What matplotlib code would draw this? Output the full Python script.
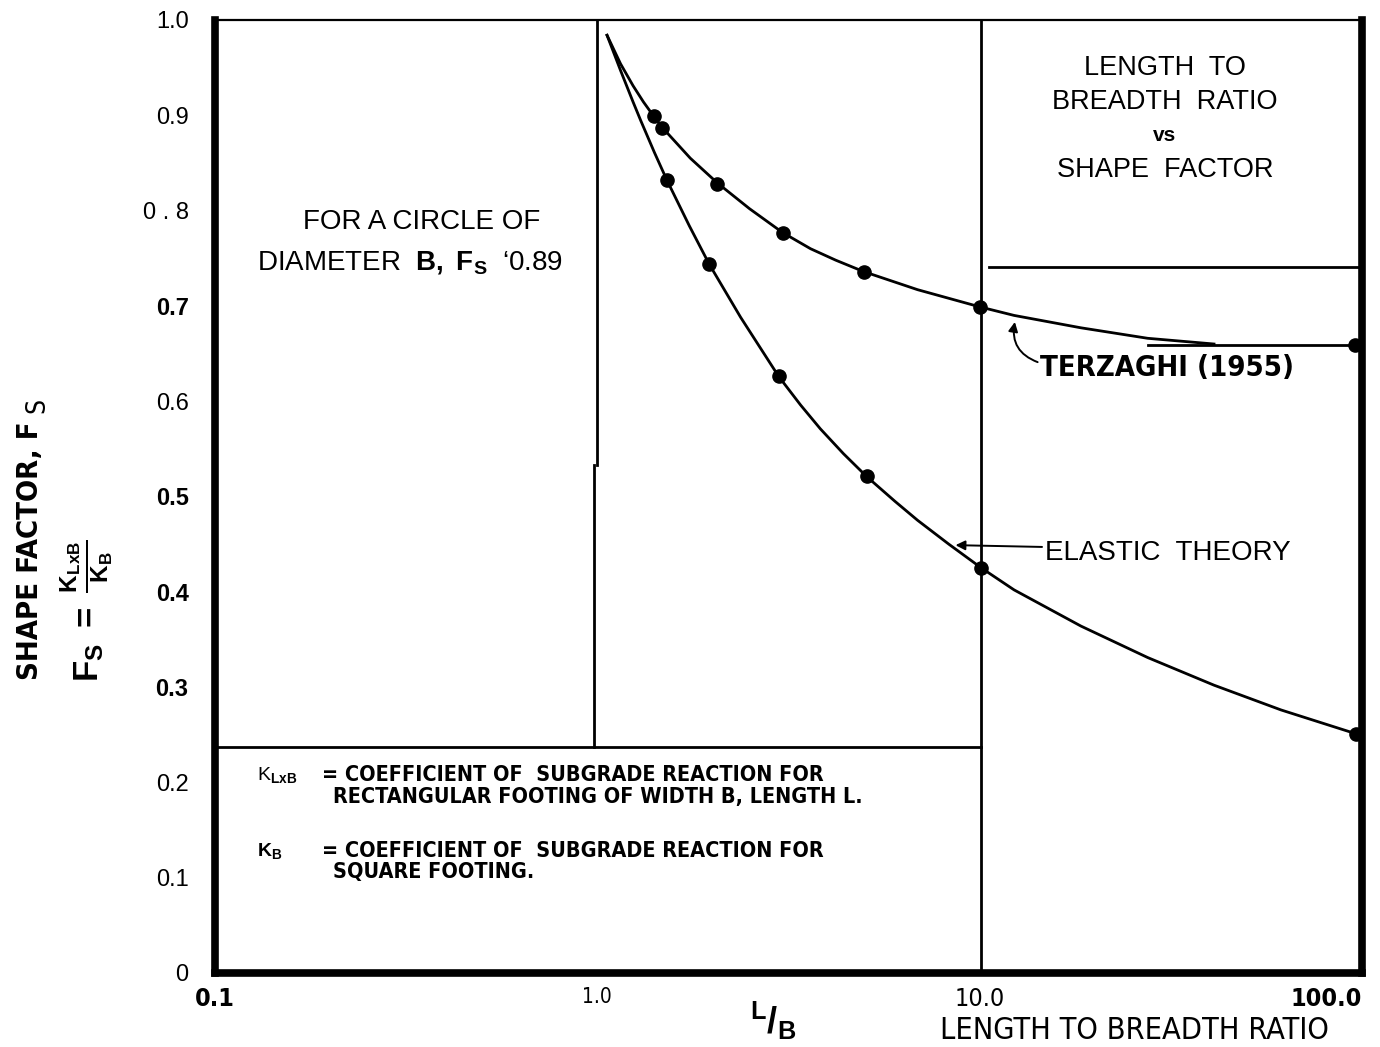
import matplotlib
matplotlib.use("Agg")
import matplotlib.pyplot as plt
from matplotlib import font_manager

# Points (L/B, shape factor)
terzaghi_x = [1.41, 1.48, 2.06, 3.05, 4.97, 10.0, 96.0]
terzaghi_y = [0.899, 0.887, 0.828, 0.777, 0.736, 0.699, 0.659]
elastic_x = [1.52, 1.96, 2.98, 5.06, 10.1, 96.4]
elastic_y = [0.832, 0.744, 0.626, 0.521, 0.425, 0.251]

# Hand-drawn curves traced through the points
terzaghi_curve_x = [1.06, 1.15, 1.24, 1.32, 1.41, 1.48, 1.75, 2.06, 2.5, 3.05, 3.61, 4.2, 4.97,
                    6.88, 10.0, 12.3, 18.4, 27.5, 41.0]
terzaghi_curve_y = [0.984, 0.954, 0.931, 0.914, 0.898, 0.887, 0.855, 0.829, 0.802, 0.777, 0.760, 0.748, 0.736,
                    0.717, 0.699, 0.690, 0.677, 0.666, 0.660]
terzaghi_flat_x = [27.5, 96.0]
terzaghi_flat_y = [0.659, 0.659]
elastic_curve_x = [1.06, 1.15, 1.24, 1.30, 1.41, 1.52, 1.74, 1.96, 2.37, 2.98, 3.4, 3.83, 4.4, 5.06,
                   6.0, 6.88, 8.3, 10.1, 12.3, 18.4, 27.5, 41.0, 61.4, 96.4]
elastic_curve_y = [0.984, 0.947, 0.914, 0.894, 0.861, 0.832, 0.784, 0.744, 0.688, 0.626, 0.596, 0.571, 0.545, 0.521,
                   0.495, 0.475, 0.450, 0.425, 0.402, 0.364, 0.331, 0.302, 0.276, 0.251]

y_ticks = [0, 0.1, 0.2, 0.3, 0.4, 0.5, 0.6, 0.7, 0.8, 0.9, 1.0]
y_labels = ["0", "0.1", "0.2", "0.3", "0.4", "0.5", "0.6", "0.7", "0 . 8", "0.9", "1.0"]
y_bold = ["0.3", "0.4", "0.5", "0.7"]
x_ticks = [0.1, 1.0, 10.0, 100.0]
x_labels = ["0.1", "1.0", "10.0", "100.0"]

SANS = ["Liberation Sans", "DejaVu Sans"]
plt.rcParams["font.family"] = SANS
plt.rcParams["mathtext.fontset"] = "custom"
plt.rcParams["mathtext.rm"] = "Liberation Sans"
plt.rcParams["mathtext.bf"] = "Liberation Sans:bold"
plt.rcParams["mathtext.it"] = "Liberation Sans"


def narrow(size, bold=False):
    """Condensed font if one is installed, else plain sans."""
    weight = "bold" if bold else "normal"
    for fam in ["Liberation Sans Narrow", "DejaVu Sans"]:
        fp = font_manager.FontProperties(family=fam, stretch="condensed", weight=weight, size=size)
        try:
            path = font_manager.findfont(fp, fallback_to_default=False)
        except ValueError:
            continue
        if "Narrow" in path or "Condensed" in path:
            return font_manager.FontProperties(fname=path, size=size)
    return font_manager.FontProperties(family="Liberation Sans", weight=weight, size=size)


fig = plt.figure(figsize=(13.8, 10.47), dpi=100)
ax = fig.add_axes([0.1558, 0.0707, 0.8312, 0.9102])
ax.set_xscale("log")
ax.set_xlim(0.1, 100)
ax.set_ylim(0, 1.0)

lw = 2.0
ax.plot(terzaghi_curve_x, terzaghi_curve_y, color="black", lw=lw)
ax.plot(terzaghi_flat_x, terzaghi_flat_y, color="black", lw=lw)
ax.plot(elastic_curve_x, elastic_curve_y, color="black", lw=lw)
ax.plot(terzaghi_x, terzaghi_y, "o", color="black", ms=9.5)
ax.plot(elastic_x, elastic_y, "o", color="black", ms=9.5)

# frame lines inside the chart
ax.plot([1.0, 1.0], [0.533, 1.0], color="black", lw=lw)
ax.plot([0.982, 0.982], [0.237, 0.533], color="black", lw=lw)
ax.plot([10.05, 10.05], [0, 1.0], color="black", lw=lw)
ax.plot([0.1, 10.05], [0.237, 0.237], color="black", lw=lw)
ax.plot([10.6, 100], [0.741, 0.741], color="black", lw=lw)

for side, w in [("left", 5.5), ("bottom", 5.5), ("right", 5.5), ("top", 1.6)]:
    ax.spines[side].set_linewidth(w)

ax.set_yticks(y_ticks)
ax.set_yticklabels(y_labels)
for lab in ax.get_yticklabels():
    lab.set_family(SANS)
    lab.set_fontsize(17)
    if lab.get_text() in y_bold:
        lab.set_fontweight("bold")
ax.tick_params(axis="y", length=0, pad=19)

ax.set_xticks(x_ticks)
ax.set_xticklabels(x_labels)
ax.minorticks_off()
ax.tick_params(axis="x", length=0, pad=10)
for lab in ax.get_xticklabels():
    t = lab.get_text()
    if t == "1.0":
        lab.set_fontproperties(narrow(15))
    else:
        lab.set_fontproperties(narrow(18, bold=(t != "10.0")))
    if t == "100.0":
        lab.set_horizontalalignment("right")

# annotations
ax.text(0.180, 0.788, "FOR A CIRCLE OF", transform=ax.transAxes, ha="center", va="center", fontsize=20)
ax.text(0.170, 0.746, r"DIAMETER  $\mathbf{B,\ F_S}$  ‘0.89", transform=ax.transAxes,
        ha="center", va="center", fontsize=20)

ax.text(0.828, 0.950, "LENGTH  TO", transform=ax.transAxes, ha="center", va="center", fontsize=19.5)
ax.text(0.828, 0.914, "BREADTH  RATIO", transform=ax.transAxes, ha="center", va="center", fontsize=19.5)
ax.text(0.828, 0.879, "vs", transform=ax.transAxes, ha="center", va="center", fontsize=15, fontweight="bold")
ax.text(0.828, 0.843, "SHAPE  FACTOR", transform=ax.transAxes, ha="center", va="center", fontsize=19.5)

ax.text(0.719, 0.635, "TERZAGHI (1955)", transform=ax.transAxes, ha="left", va="center",
        fontproperties=narrow(21, bold=True))
ax.annotate("", xy=(12.4, 0.686), xytext=(14.4, 0.640),
            arrowprops=dict(arrowstyle="-|>", color="black", lw=1.4, mutation_scale=14,
                            connectionstyle="arc3,rad=-0.45"))

ax.text(0.724, 0.441, "ELASTIC  THEORY", transform=ax.transAxes, ha="left", va="center", fontsize=20)
ax.annotate("", xy=(8.5, 0.449), xytext=(14.8, 0.447),
            arrowprops=dict(arrowstyle="-|>", color="black", lw=1.4, mutation_scale=14))

note_fp = narrow(15.5, bold=True)
ax.text(0.037, 0.208, r"K$_{\mathbf{LxB}}$", transform=ax.transAxes, ha="left", va="center", fontsize=14)
ax.text(0.093, 0.208, "= COEFFICIENT OF  SUBGRADE REACTION FOR", transform=ax.transAxes,
        ha="left", va="center", fontproperties=note_fp)
ax.text(0.103, 0.185, "RECTANGULAR FOOTING OF WIDTH B, LENGTH L.", transform=ax.transAxes,
        ha="left", va="center", fontproperties=note_fp)
ax.text(0.037, 0.128, r"K$_{\mathbf{B}}$", transform=ax.transAxes, ha="left", va="center",
        fontsize=14, fontweight="bold")
ax.text(0.093, 0.128, "= COEFFICIENT OF  SUBGRADE REACTION FOR", transform=ax.transAxes,
        ha="left", va="center", fontproperties=note_fp)
ax.text(0.103, 0.106, "SQUARE FOOTING.", transform=ax.transAxes,
        ha="left", va="center", fontproperties=note_fp)

# axis titles
fig.text(0.022, 0.474, "SHAPE FACTOR, F", rotation=90, ha="center", va="center",
         fontproperties=narrow(21, bold=True))
fig.text(0.027, 0.613, "S", rotation=90, ha="center", va="center", fontproperties=narrow(19))
fig.text(0.063, 0.417, r"$\mathbf{F_S\ =\ \frac{K_{LxB}}{K_B}}$", rotation=90, ha="center", va="center",
         fontsize=25)
fig.text(0.560, 0.025, r"$\mathbf{{}^{L}/_{B}}$", ha="center", va="center", fontsize=26)
fig.text(0.822, 0.016, "LENGTH TO BREADTH RATIO", ha="center", va="center", fontproperties=narrow(22))

fig.savefig("out.png", dpi=100)
